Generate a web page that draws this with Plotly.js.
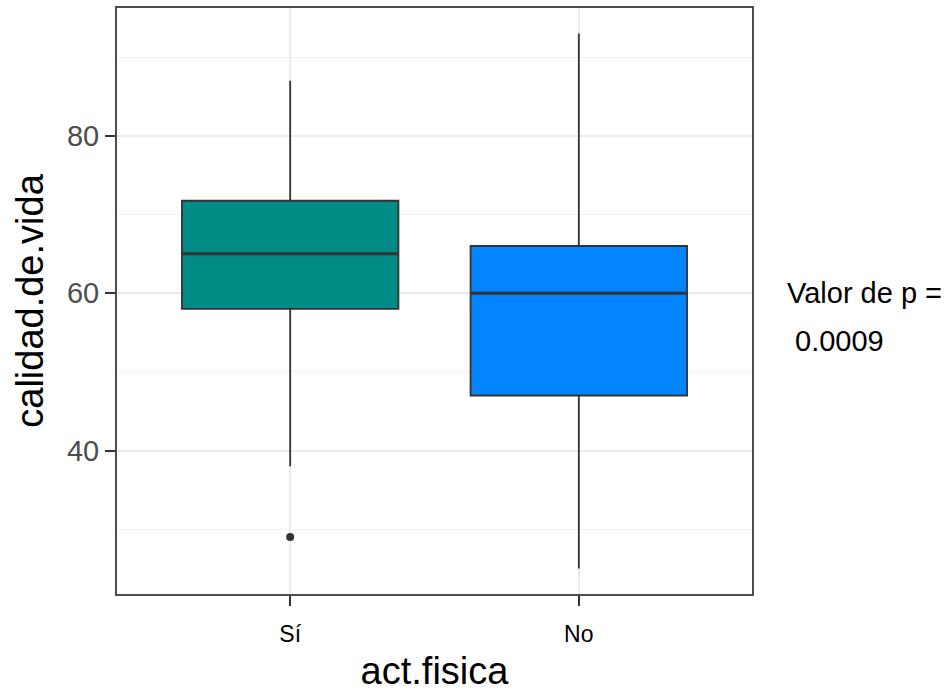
<!DOCTYPE html>
<html>
<head>
<meta charset="utf-8">
<script src="https://cdn.plot.ly/plotly-3.0.1.min.js"></script>
<style>
  html, body { margin: 0; padding: 0; background: #ffffff; }
  #chart { width: 952px; height: 692px; }
</style>
</head>
<body>
<div id="chart"></div>
<script>
// Quality-of-life score by physical activity group
const categories = ['Sí', 'No'];
const lowerWhisker = [38, 25];
const q1Values = [58, 47];
const medianValues = [65, 60];
const q3Values = [71.75, 66];
const upperWhisker = [87, 93];
const fillColors = ['#008B87', '#0385FF'];

// Points beyond the whiskers
const outlierGroups = ['Sí'];
const outlierValues = [29];

const pLabel = 'Valor de p =';
const pValue = '0.0009';

const FONT = 'Liberation Sans, Arial, Helvetica, sans-serif';
const BOX_WIDTH = 0.75;

const boxTraces = categories.map((cat, i) => ({
  type: 'box',
  name: cat,
  x: [cat],
  q1: [q1Values[i]],
  median: [medianValues[i]],
  q3: [q3Values[i]],
  lowerfence: [lowerWhisker[i]],
  upperfence: [upperWhisker[i]],
  width: BOX_WIDTH,
  fillcolor: fillColors[i],
  line: { color: '#333333', width: 1.8 },
  whiskerwidth: 0,
  boxpoints: false,
  showlegend: false,
  hoverinfo: 'y'
}));

const outlierTrace = {
  type: 'scatter',
  mode: 'markers',
  x: outlierGroups,
  y: outlierValues,
  marker: { color: '#333333', size: 8 },
  showlegend: false,
  hoverinfo: 'y'
};

// Heavier median bar across each box
const medianShapes = categories.map((cat, i) => ({
  type: 'line',
  xref: 'x', yref: 'y',
  x0: i - BOX_WIDTH / 2, x1: i + BOX_WIDTH / 2,
  y0: medianValues[i], y1: medianValues[i],
  line: { color: '#333333', width: 3 }
}));

const layout = {
  width: 952,
  height: 692,
  margin: { l: 117, r: 200, t: 8, b: 98 },
  paper_bgcolor: '#ffffff',
  plot_bgcolor: '#ffffff',
  font: { family: FONT, color: '#000000' },
  boxgap: 0.25,
  boxgroupgap: 0,
  boxmode: 'overlay',
  showlegend: false,
  shapes: medianShapes,
  xaxis: {
    type: 'category',
    categoryorder: 'array',
    categoryarray: categories,
    range: [-0.6, 1.6],
    showline: true,
    mirror: true,
    linecolor: '#4D4D4D',
    linewidth: 2,
    ticks: 'outside',
    ticklen: 10,
    tickwidth: 2,
    tickcolor: '#333333',
    ticklabelstandoff: 8,
    showgrid: true,
    gridcolor: '#EBEBEB',
    gridwidth: 2,
    zeroline: false,
    tickfont: { family: FONT, size: 23, color: '#000000' },
    title: { text: 'act.fisica', font: { family: FONT, size: 38, color: '#000000' }, standoff: 12 }
  },
  yaxis: {
    range: [21.77, 96.25],
    tick0: 0,
    dtick: 20,
    showline: true,
    mirror: true,
    linecolor: '#4D4D4D',
    linewidth: 2,
    ticks: 'outside',
    ticklen: 10,
    tickwidth: 2,
    tickcolor: '#333333',
    showgrid: true,
    gridcolor: '#EBEBEB',
    gridwidth: 2,
    zeroline: false,
    minor: { tick0: 0, dtick: 10, showgrid: true, gridcolor: '#F2F2F2', gridwidth: 1.2, ticks: '' },
    tickfont: { family: FONT, size: 29, color: '#4D4D4D' },
    title: { text: 'calidad.de.vida', font: { family: FONT, size: 38, color: '#000000' }, standoff: 12 }
  },
  annotations: [
    {
      xref: 'paper', yref: 'paper',
      x: 1.052, y: 0.5137,
      xanchor: 'left', yanchor: 'middle',
      text: pLabel, showarrow: false,
      font: { family: FONT, size: 29, color: '#000000' }
    },
    {
      xref: 'paper', yref: 'paper',
      x: 1.0646, y: 0.4317,
      xanchor: 'left', yanchor: 'middle',
      text: pValue, showarrow: false,
      font: { family: FONT, size: 29, color: '#000000' }
    }
  ]
};

Plotly.newPlot('chart', boxTraces.concat([outlierTrace]), layout, { displayModeBar: false, responsive: false });
</script>
</body>
</html>
